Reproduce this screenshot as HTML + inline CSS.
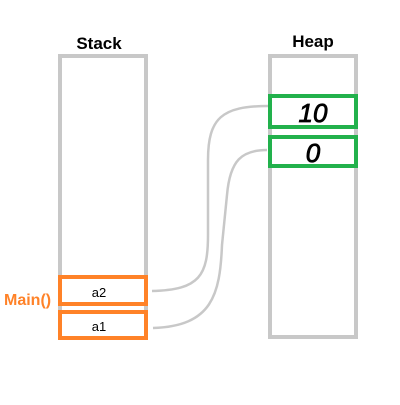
<!DOCTYPE html>
<html><head><style>
body{margin:0;width:400px;height:400px;background:#fff;overflow:hidden}
svg text{font-family:"Liberation Sans",sans-serif}
</style></head><body>
<svg width="400" height="400">
<text x="99" y="49" text-anchor="middle" font-size="17" font-weight="bold">Stack</text>
<text x="313" y="47" text-anchor="middle" font-size="17" font-weight="bold">Heap</text>
<rect x="60" y="56" width="86" height="281" fill="none" stroke="#c8c8c8" stroke-width="4"/>
<rect x="270" y="56" width="86" height="281" fill="none" stroke="#c8c8c8" stroke-width="4"/>
<path d="M152,291 C200,290 208,275 208,235 L208,160 C208,118 222,106 268,106" fill="none" stroke="#c8c8c8" stroke-width="2.5"/>
<path d="M153,328 C212,326 220,295 222,245 L227,195 C230,160 242,150 267,150" fill="none" stroke="#c8c8c8" stroke-width="2.5"/>
<rect x="60" y="277" width="86" height="27" fill="#fff" stroke="#ff8228" stroke-width="4"/>
<rect x="60" y="312" width="86" height="26" fill="#fff" stroke="#ff8228" stroke-width="4"/>
<text x="99" y="297" text-anchor="middle" font-size="13">a2</text>
<text x="99" y="331" text-anchor="middle" font-size="13">a1</text>
<text x="4" y="305" font-size="16" font-weight="bold" fill="#ff8228">Main()</text>
<rect x="270" y="96" width="86" height="31" fill="#fff" stroke="#22b14c" stroke-width="4"/>
<rect x="270" y="137" width="86" height="29" fill="#fff" stroke="#22b14c" stroke-width="4"/>
<text x="313" y="122" text-anchor="middle" font-size="26" font-style="italic" stroke="#000" stroke-width="0.8">10</text>
<text x="313" y="162" text-anchor="middle" font-size="26" font-style="italic" stroke="#000" stroke-width="0.8">0</text>
</svg>
</body></html>
